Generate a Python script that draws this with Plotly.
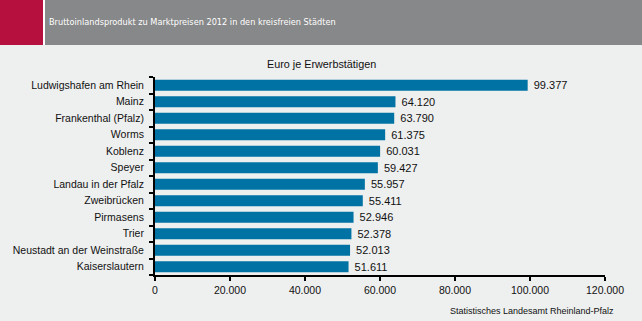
import plotly.graph_objects as go

cities = ["Ludwigshafen am Rhein", "Mainz", "Frankenthal (Pfalz)", "Worms", "Koblenz",
          "Speyer", "Landau in der Pfalz", "Zweibrücken", "Pirmasens", "Trier",
          "Neustadt an der Weinstraße", "Kaiserslautern"]
values = [99377, 64120, 63790, 61375, 60031, 59427, 55957, 55411, 52946, 52378, 52013, 51611]
xticks = [0, 20000, 40000, 60000, 80000, 100000, 120000]

title = "Bruttoinlandsprodukt zu Marktpreisen 2012 in den kreisfreien Städten"
subtitle = "Euro je Erwerbstätigen"
source = "Statistisches Landesamt Rheinland-Pfalz"

W, H = 642, 321
L, R, T, B = 155, 37, 77, 46
pw, ph = W - L - R, H - T - B

def px(x):
    return (x - L) / pw

def py(y):
    return (H - B - y) / ph

fig = go.Figure(go.Bar(
    x=values, y=cities, orientation="h",
    marker=dict(color="#0072A3", line=dict(width=0)),
    width=0.66,
    text=values, texttemplate=" %{x:,d}", textposition="outside",
    constraintext="none",
    textfont=dict(family="Liberation Sans, Arial", size=11, color="#111111"),
    cliponaxis=False,
))

fig.update_layout(
    width=W, height=H,
    margin=dict(l=L, r=R, t=T, b=B, pad=0),
    paper_bgcolor="#EEEFEF", plot_bgcolor="#EEEFEF",
    separators=",.",
    showlegend=False,
    font=dict(family="Liberation Sans, Arial", size=11, color="#111111"),
    xaxis=dict(range=[0, 120000], tickvals=xticks, tickformat=",d", automargin=False,
               showgrid=False, zeroline=False, showline=True, linecolor="#000000",
               linewidth=2, ticks="outside", ticklen=4, tickwidth=1.5, tickcolor="#000000",
               tickfont=dict(size=10.5)),
    yaxis=dict(categoryorder="array", categoryarray=cities[::-1], autorange=False,
               range=[-0.5, len(cities) - 0.5], automargin=False,
               showgrid=False, zeroline=False, showline=True, linecolor="#000000",
               linewidth=2, ticks="outside", tickson="boundaries", ticklen=4,
               tickwidth=1.5, tickcolor="#000000", ticklabelstandoff=7,
               tickfont=dict(size=10.5)),
    shapes=[
        dict(type="rect", xref="paper", yref="paper", x0=px(0), x1=px(43), y0=py(45), y1=py(0),
             fillcolor="#B5103E", line=dict(width=0), layer="below"),
        dict(type="rect", xref="paper", yref="paper", x0=px(43), x1=px(45), y0=py(45), y1=py(0),
             fillcolor="#FFFFFF", line=dict(width=0), layer="below"),
        dict(type="rect", xref="paper", yref="paper", x0=px(45), x1=px(642), y0=py(45), y1=py(0),
             fillcolor="#878889", line=dict(width=0), layer="below"),
    ],
    annotations=[
        dict(text=title, xref="paper", yref="paper", x=px(47), y=py(22), xanchor="left",
             yanchor="middle", showarrow=False,
             font=dict(family="DejaVu Sans Condensed, Liberation Sans",
                       size=9.1, color="#FFFFFF")),
        dict(text=subtitle, xref="paper", yref="paper", x=px(321), y=py(64), xanchor="center",
             yanchor="middle", showarrow=False,
             font=dict(family="Liberation Sans, Arial", size=10.8, color="#111111")),
        dict(text=source, xref="paper", yref="paper", x=px(616), y=py(311), xanchor="right",
             yanchor="middle", showarrow=False,
             font=dict(family="Liberation Sans, Arial", size=9, color="#111111")),
    ],
)

fig.write_html("out.html")
